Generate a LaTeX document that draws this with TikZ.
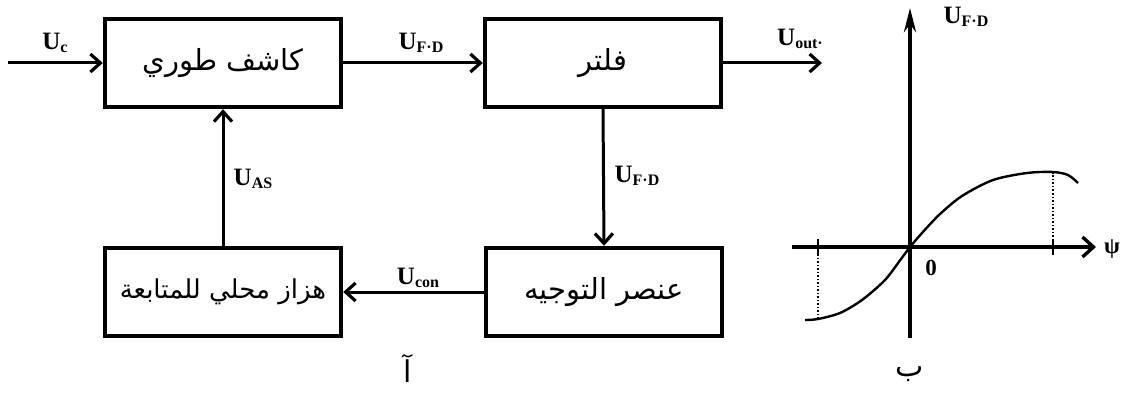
\documentclass[tikz,border=0pt]{standalone}
\usepackage{fontspec}
\setmainfont{Liberation Serif}
\TeXXeTstate=1
\newfontfamily\arabicfont[Script=Arabic]{DejaVu Sans}
\usetikzlibrary{arrows.meta}

% signal name: bold letter with a smaller lowered subscript
\newcommand{\signame}[2]{\textbf{\fontsize{25}{25}\selectfont #1\raisebox{-0.3ex}{\fontsize{16}{16}\selectfont #2}}}
\newcommand{\ar}[1]{{\arabicfont\beginR #1\endR}}

\tikzset{
  block/.style={draw, line width=4.4pt, minimum width=236pt, minimum height=88pt,
                inner sep=0pt, font=\fontsize{29}{32}\selectfont},
  link/.style={line width=3pt, -{Straight Barb[length=10pt,width=18pt,line width=3.2pt]}},
  axis/.style={line width=4.2pt},
  lbl/.style={inner sep=0pt},
}

\begin{document}
\begin{tikzpicture}[x=1pt,y=-1pt]
\useasboundingbox (0,0) rectangle (1126,398);

% ---- block diagram ----
\node[block] (det)  at (223,63)  {\ar{كاشف طوري}};
\node[block] (filt) at (603,63)  {\ar{فلتر}};
\node[block, font=\fontsize{26}{30}\selectfont] (osc) at (223,292) {\ar{هزاز محلي للمتابعة}};
\node[block] (ctl)  at (604,292) {\ar{عنصر التوجيه}};

\coordinate (in)  at (8,63);
\coordinate (out) at (822,63);

\draw[link] (in) -- (det.west);
\draw[link] (det.east) -- (filt.west);
\draw[link] (filt.east) -- (out);
\draw[link] (filt.south) -- (ctl.north);
\draw[link] (ctl.west) -- (osc.east);
\draw[link] (osc.north) -- (det.south);

\node[lbl] (uc)   at (55,43)   {\signame{U}{c}};
\node[lbl] (ufd1) at (421,43)  {\signame{U}{F·D}};
\node[lbl] (uout) at (800,39)  {\signame{U}{out·}};
\node[lbl] (ufd2) at (637,176) {\signame{U}{F·D}};
\node[lbl] (ucon) at (418,278) {\signame{U}{con}};
\node[lbl] (uas)  at (253,179) {\signame{U}{AS}};

\node[lbl, font=\fontsize{30}{34}\selectfont] (capa) at (408,368) {\ar{آ}};

% ---- characteristic curve ----
\coordinate (o) at (910,247);
\draw[axis, -{Stealth[length=24pt,width=12pt]}] (910,338) -- (910,8);
\draw[axis, -{Straight Barb[length=11pt,width=20pt,line width=3.4pt]}] (792,247) -- (1096,247);

\draw[line width=1.8pt] (818,239) -- (818,255);
\draw[line width=1.8pt] (1053,239) -- (1053,255);
\draw[line width=1.5pt, dotted] (818,247) -- (818,318);
\draw[line width=1.5pt, dotted] (1053,247) -- (1053,173);

\draw[line width=2.4pt, smooth] plot coordinates {
  (805,320) (818,319) (840,313) (862,300) (885,280) (901,259) (910,247)
  (922,233) (940,214) (962,196) (993,180) (1027,173) (1053,172) (1068,175) (1078,183)};

\node[lbl] (zero) at (931,268) {\textbf{\fontsize{23}{23}\selectfont 0}};
\node[lbl] (psi)  at (1112,249) {\textbf{\fontsize{23}{23}\selectfont ψ}};
\node[lbl] (ufd3) at (966,17)  {\signame{U}{F·D}};
\node[lbl, font=\fontsize{30}{34}\selectfont] (capb) at (910,374) {\ar{ب}};
\end{tikzpicture}
\end{document}
